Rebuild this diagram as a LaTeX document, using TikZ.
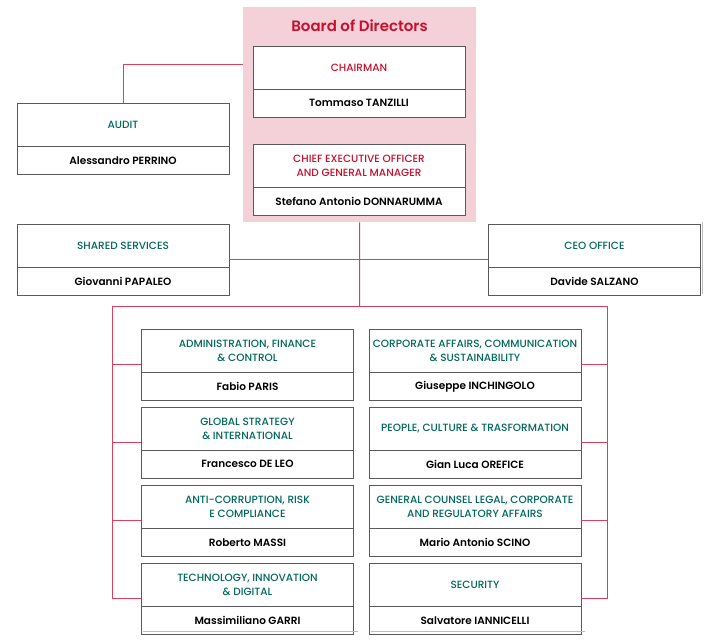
\documentclass[tikz,border=0pt]{standalone}
\usepackage{fontspec}
\setmainfont{Poppins}
\newfontfamily\headfont{Poppins Medium}
\newfontfamily\namefont{Poppins SemiBold}
\usetikzlibrary{shapes.multipart}

\definecolor{boardred}{HTML}{C8102E}
\definecolor{unitgreen}{HTML}{00695C}
\definecolor{linkred}{HTML}{D9415D}
\definecolor{boardpink}{HTML}{F4D1D9}
\definecolor{boxgray}{HTML}{5A5A5A}
\definecolor{shadegray}{HTML}{BDBDBD}

\newcommand{\unithead}[2][unitgreen]{\parbox[c][42pt][c]{212pt}{\centering\headfont\fontsize{10.5}{14}\selectfont\color{#1}#2}}
\newcommand{\unitname}[1]{\parbox[c][27pt][c]{212pt}{\centering\namefont\fontsize{10.5}{14}\selectfont #1}}

\tikzset{
  unit/.style={draw=boxgray, line width=0.9pt, fill=white,
    rectangle split, rectangle split parts=2, inner sep=0pt, anchor=north},
  link/.style={draw=linkred, line width=1pt},
  shade/.style={draw=shadegray, line width=1pt},
}

\begin{document}
\begin{tikzpicture}[x=1pt, y=-1pt]
\useasboundingbox (0,0) rectangle (718,642);

% board of directors
\node[fill=boardpink, minimum width=233pt, minimum height=215pt,
  inner sep=0pt, anchor=north west] (board) at (243,7) {};
\node[text=boardred, font=\namefont\fontsize{15}{18}\selectfont] (bodtitle) at (359.5,26) {Board of Directors};
\node[unit] (chair) at (359,46)
  {\unithead[boardred]{CHAIRMAN}
     \nodepart{second} \unitname{Tommaso TANZILLI}};
\node[unit] (ceo) at (359,144)
  {\unithead[boardred]{CHIEF EXECUTIVE OFFICER\\AND GENERAL MANAGER}
     \nodepart{second} \unitname{Stefano Antonio DONNARUMMA}};

% staff
\node[unit] (audit) at (123,103)
  {\unithead{AUDIT}
     \nodepart{second} \unitname{Alessandro PERRINO}};
\node[unit] (shared) at (123,224)
  {\unithead{SHARED SERVICES}
     \nodepart{second} \unitname{Giovanni PAPALEO}};
\node[unit] (ceooff) at (594.5,224)
  {\unithead{CEO OFFICE}
     \nodepart{second} \unitname{Davide SALZANO}};

% functions, left column
\node[unit] (adm) at (247.5,329)
  {\unithead{ADMINISTRATION, FINANCE\\\& CONTROL}
     \nodepart{second} \unitname{Fabio PARIS}};
\node[unit] (gsi) at (247.5,407)
  {\unithead{GLOBAL STRATEGY\\\& INTERNATIONAL}
     \nodepart{second} \unitname{Francesco DE LEO}};
\node[unit] (acr) at (247.5,485)
  {\unithead{ANTI-CORRUPTION, RISK\\E COMPLIANCE}
     \nodepart{second} \unitname{Roberto MASSI}};
\node[unit] (tec) at (247.5,563)
  {\unithead{TECHNOLOGY, INNOVATION\\\& DIGITAL}
     \nodepart{second} \unitname{Massimiliano GARRI}};

% functions, right column
\node[unit] (cac) at (475,329)
  {\unithead{CORPORATE AFFAIRS, COMMUNICATION\\\& SUSTAINABILITY}
     \nodepart{second} \unitname{Giuseppe INCHINGOLO}};
\node[unit] (pct) at (475,407)
  {\unithead{PEOPLE, CULTURE \& TRASFORMATION}
     \nodepart{second} \unitname{Gian Luca OREFICE}};
\node[unit] (gcl) at (475,485)
  {\unithead{GENERAL COUNSEL LEGAL, CORPORATE\\AND REGULATORY AFFAIRS}
     \nodepart{second} \unitname{Mario Antonio SCINO}};
\node[unit] (sec) at (475,563)
  {\unithead{SECURITY}
     \nodepart{second} \unitname{Salvatore IANNICELLI}};

\coordinate (lft) at (112,306);
\coordinate (rgt) at (607,306);
\coordinate (spine) at (359.5,306);

% connectors
\draw[link] (audit.north) |- (board.west |- 0,65);
\draw[link] (board.south) -- (spine);
\draw[link] (shared.east) -- (ceooff.west);
\draw[link] (tec.west) -| (lft) -- (rgt) |- (sec.east);
\foreach \u in {adm,gsi,acr}
  \draw[link] (\u.west) -- (\u.west -| lft);
\foreach \u in {cac,pct,gcl}
  \draw[link] (\u.east) -- (\u.east -| rgt);

% shadows
\draw[shade] ([xshift=2pt,yshift=2pt]ceooff.north east) -- ([xshift=2pt,yshift=2pt]ceooff.south east);
\draw[shade] ([xshift=2pt,yshift=3pt]tec.south west) -- ([xshift=4pt,yshift=3pt]tec.south east);
\draw[shade] ([xshift=2pt,yshift=3pt]sec.south west) -- ([xshift=4pt,yshift=3pt]sec.south east);
\end{tikzpicture}
\end{document}
